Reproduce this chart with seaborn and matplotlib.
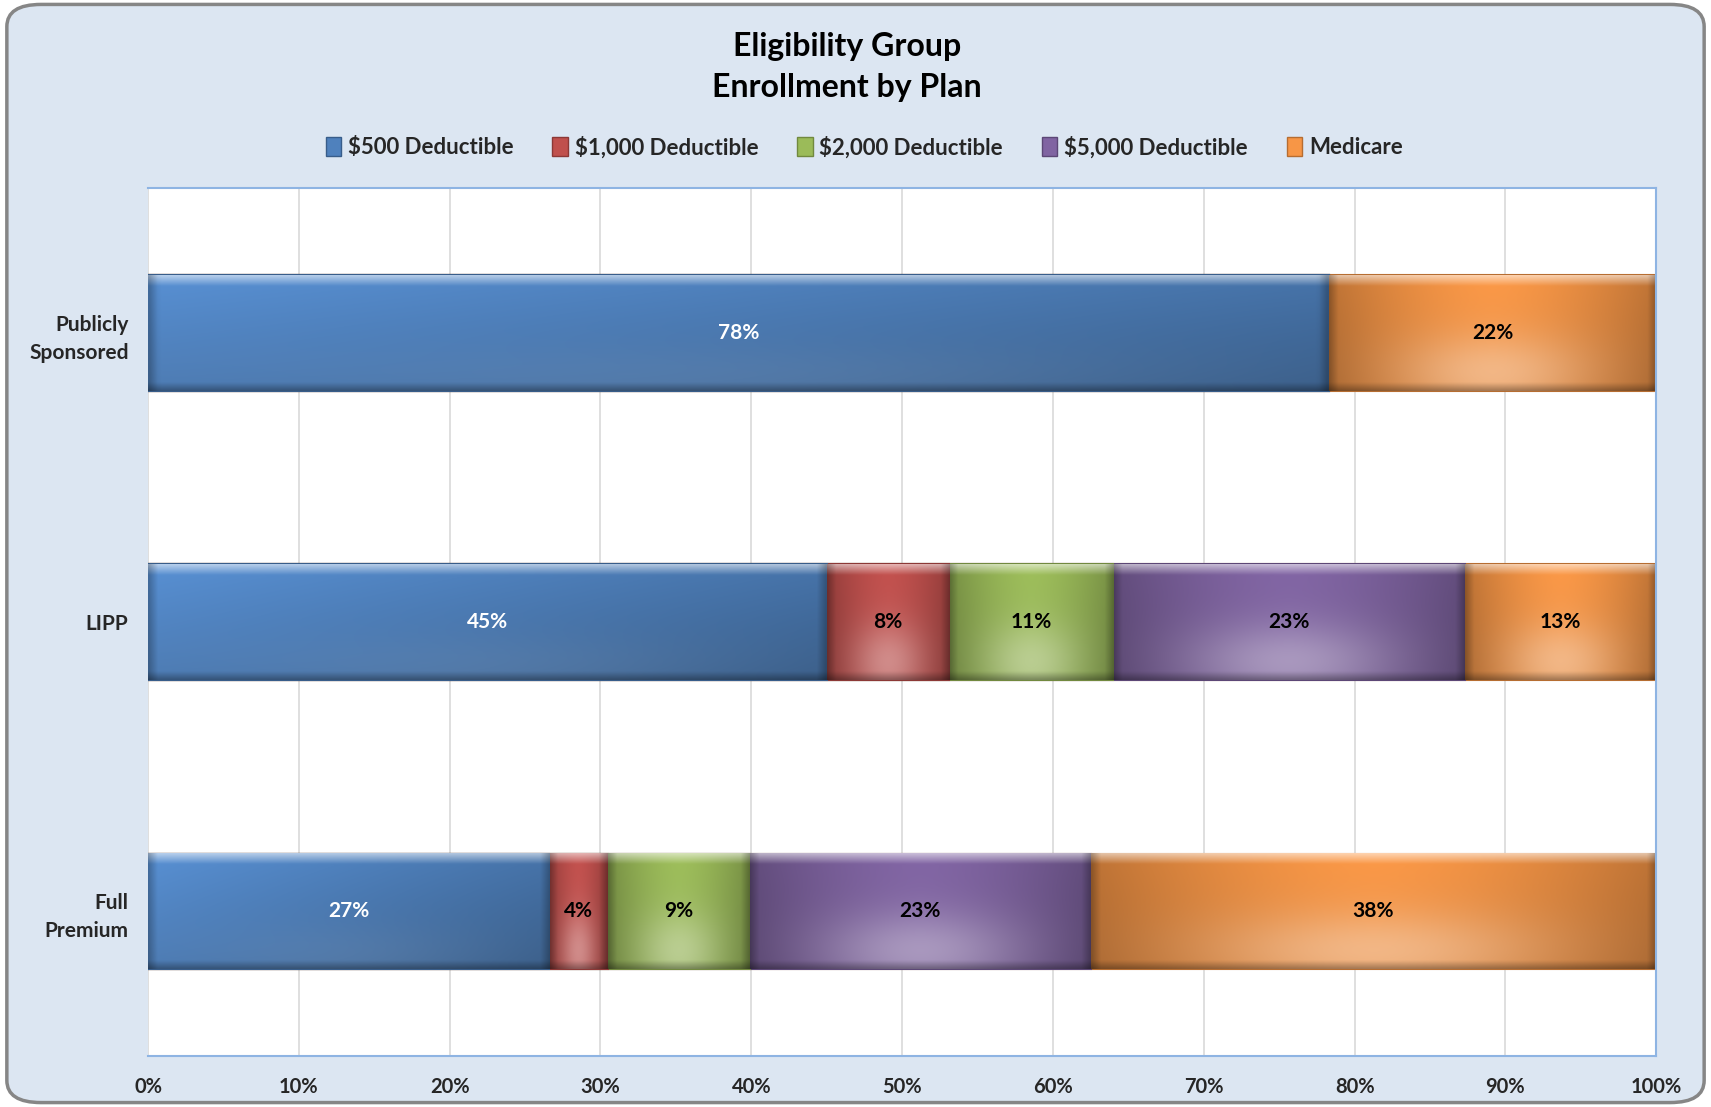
import numpy as np
import pandas as pd
import matplotlib.pyplot as plt
import seaborn as sns
from matplotlib.colors import to_rgb
from matplotlib.patches import FancyBboxPatch, Patch

# data (percent of enrollment)
groups = ["Publicly\nSponsored", "LIPP", "Full\nPremium"]
plans = ["$500 Deductible", "$1,000 Deductible", "$2,000 Deductible",
         "$5,000 Deductible", "Medicare"]
ded_500 = [78.3, 45.0, 26.6]
ded_1000 = [0.0, 8.1, 3.9]
ded_2000 = [0.0, 10.9, 9.4]
ded_5000 = [0.0, 23.3, 22.6]
medicare = [21.7, 12.7, 37.5]

colors = ["#4F81BD", "#C0504D", "#9BBB59", "#8064A2", "#F79646"]
edges = ["#385D8A", "#8C3836", "#71893F", "#5C4776", "#B66D31"]
text_colors = ["white", "black", "black", "black", "black"]

df = pd.DataFrame({"Group": groups, plans[0]: ded_500, plans[1]: ded_1000,
                   plans[2]: ded_2000, plans[3]: ded_5000, plans[4]: medicare})
cum = df[plans].cumsum(axis=1)

sns.set_style("white")
plt.rcParams["font.family"] = ["Lato", "DejaVu Sans"]
plt.rcParams["font.weight"] = "bold"

fig = plt.figure(figsize=(17.11, 11.07), dpi=100)
fig.patch.set_facecolor("white")
fig.patches.append(FancyBboxPatch((0.004, 0.004), 0.992, 0.992,
                                  boxstyle="round,pad=0,rounding_size=0.02",
                                  transform=fig.transFigure, facecolor="#DCE6F2",
                                  edgecolor="#868686", linewidth=2.5, zorder=-10))

ax = fig.add_axes([0.0865, 0.046, 0.8815, 0.784])
ax.set_facecolor("white")

# stacked bars: draw cumulative totals from the outermost segment inwards
order = list(range(len(plans) - 1, -1, -1))
for i in order:
    sns.barplot(x=cum[plans[i]], y=df["Group"], orient="h", ax=ax,
                color=colors[i], edgecolor=edges[i], linewidth=1.5,
                width=0.4, saturation=1)


def shaded(color, width, blue=False, nx=300, ny=80):
    # Excel-2007-like bevel fill: light top edge, dark sides/bottom, soft glow low centre
    base = np.array(to_rgb(color))
    xx, yy = np.meshgrid(np.linspace(0, 1, nx), np.linspace(0, 1, ny))
    if blue:
        f = 1.12 - 0.22 * xx - 0.18 * yy
        glow = 0.08 * np.exp(-((xx - 0.5) / 0.4) ** 2 - ((yy - 0.9) / 0.3) ** 2)
    else:
        f = 1.02 - 0.25 * np.abs(2 * xx - 1) ** 1.6 - 0.08 * yy
        glow = 0.35 * np.exp(-((xx - 0.5) / 0.3) ** 2 - ((yy - 0.85) / 0.35) ** 2)
    img = base * f[..., None]
    img = img + (1 - img) * glow[..., None]
    # top bevel highlight fading downwards
    t = np.clip(1 - yy / 0.09, 0, 1)[..., None]
    img = img + (1 - img) * 0.55 * t
    # bottom bevel shadow
    b = np.clip((yy - 0.93) / 0.07, 0, 1)[..., None]
    img = img * (1 - 0.3 * b)
    # side bevels about 0.6 percentage points wide
    sw = min(0.6 / width, 0.2)
    s = np.clip(1 - np.minimum(xx, 1 - xx) / sw, 0, 1)[..., None]
    img = img * (1 - 0.25 * s)
    return np.clip(img, 0, 1)


# gradient fill over each visible segment, sized from the patches seaborn drew
for k, patch in enumerate(ax.patches):
    i = order[k // len(groups)]
    j = k % len(groups)
    v = df.loc[j, plans[i]]
    if v <= 0:
        continue
    right = patch.get_x() + patch.get_width()
    y0 = patch.get_y()
    ax.imshow(shaded(colors[i], v, blue=(i == 0)),
              extent=(right - v, right, y0 + patch.get_height(), y0),
              aspect="auto", zorder=patch.get_zorder() + 0.01, interpolation="bilinear")

for i, p in enumerate(plans):
    for j, g in enumerate(groups):
        v = df.loc[j, p]
        if v <= 0:
            continue
        ax.text(cum.loc[j, p] - v / 2, j, f"{v:.0f}%", ha="center", va="center",
                color=text_colors[i], fontsize=15, fontweight="bold", zorder=10)

ax.set_xlim(0, 100)
ax.set_ylim(2.5, -0.5)
ax.set_xticks(np.arange(0, 101, 10))
ax.set_xticklabels([f"{t}%" for t in range(0, 101, 10)], fontsize=14.5, fontweight="bold")
ax.set_yticklabels(groups, fontsize=15, fontweight="bold", linespacing=1.5)
ax.tick_params(axis="x", length=0, pad=15)
ax.tick_params(axis="y", length=0, pad=14)
ax.set_xlabel("")
ax.set_ylabel("")
ax.xaxis.grid(True, color="#D9D9D9", linewidth=1.2)
ax.set_axisbelow(True)
for side in ["top", "bottom", "right"]:
    ax.spines[side].set_color("#8EB4E3")
    ax.spines[side].set_linewidth(1.5)
ax.spines["left"].set_visible(False)

handles = [Patch(facecolor=c, edgecolor=e) for c, e in zip(colors, edges)]
fig.legend(handles, plans, loc="center", bbox_to_anchor=(0.505, 0.867), ncol=5,
           frameon=False, handlelength=0.7, handleheight=0.9,
           handletextpad=0.3, columnspacing=1.75, prop={"weight": "bold", "size": 16})

fig.text(0.495, 0.958, "Eligibility Group", ha="center", va="center",
         fontsize=23, fontweight="bold", color="black")
fig.text(0.495, 0.921, "Enrollment by Plan", ha="center", va="center",
         fontsize=23, fontweight="bold", color="black")

fig.savefig("out.png", dpi=100)
